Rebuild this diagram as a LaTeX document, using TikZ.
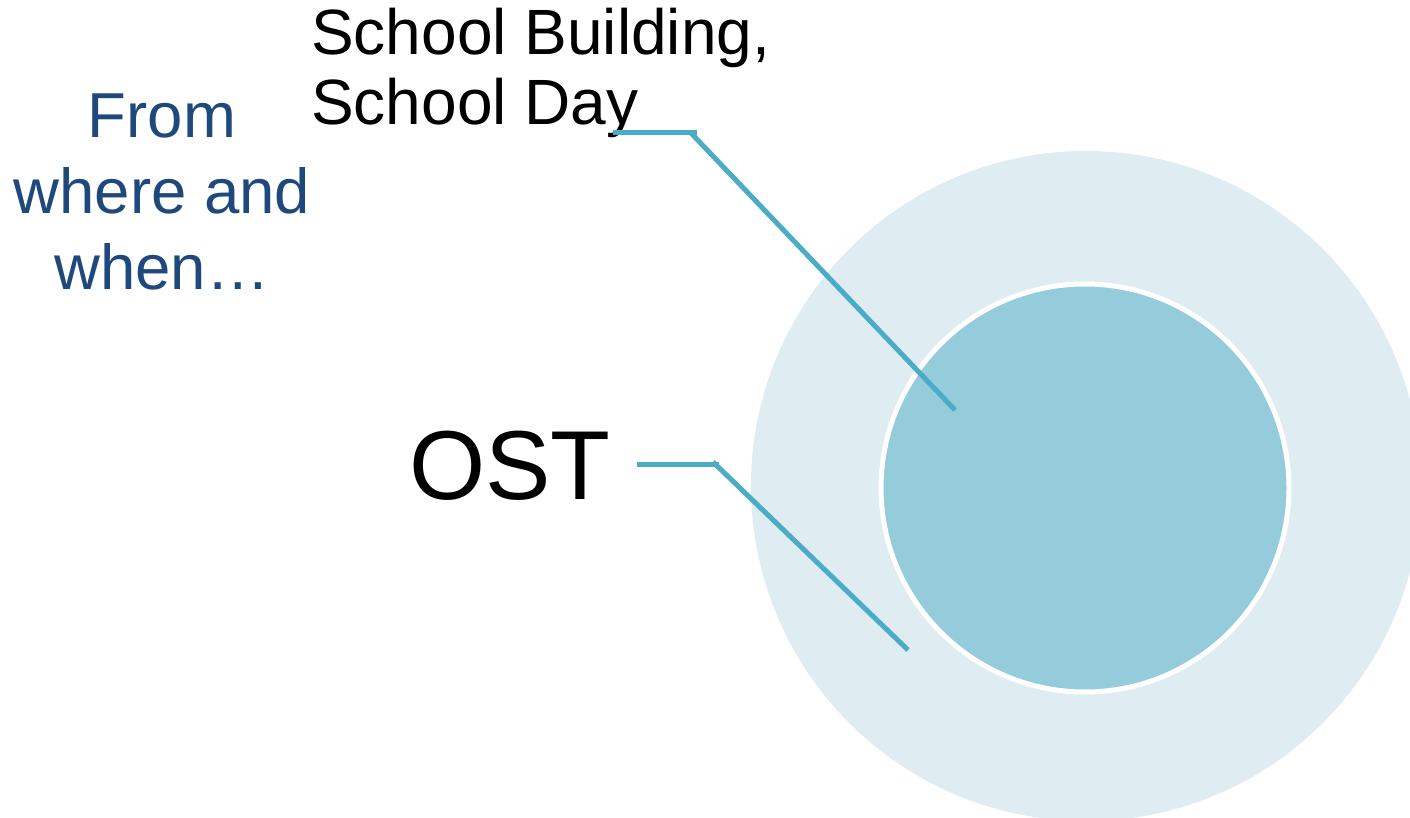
\documentclass[tikz,border=0pt]{standalone}
\usepackage{fontspec}
\setmainfont{Liberation Sans}
\definecolor{outerfill}{HTML}{DFECF2}
\definecolor{innerfill}{HTML}{94CCDC}
\definecolor{leader}{HTML}{4BACC6}
\definecolor{titleblue}{HTML}{1F497D}
\tikzset{
  leaderline/.style={draw=leader, line width=5pt},
  labeltext/.style={inner sep=0pt, text=black},
}
\begin{document}
\begin{tikzpicture}[x=1pt,y=-1pt]
\useasboundingbox (0,0) rectangle (1410,818);
% circles
\fill[outerfill] (1086,486) circle (335);
\node[circle, minimum size=408pt, inner sep=0pt, fill=innerfill, draw=white, line width=5pt] (inner) at (1085,488) {};
% texts
\node[labeltext, anchor=base west, align=left, font=\fontsize{64}{70}\selectfont] (school) at (311,125) {School Building,\\School Day};
\node[inner sep=0pt, anchor=base, align=center, text=titleblue, font=\fontsize{63.5}{76.5}\selectfont] (from) at (162,290) {From\\where and\\when…};
\node[labeltext, anchor=base west, font=\fontsize{98}{110}\selectfont] (ost) at (409,499) {OST};
% leader lines
\coordinate (s1) at (613,133);
\coordinate (s2) at (697,133);
\coordinate (s3) at (690,132);
\coordinate (s4) at (955,410);
\coordinate (o1) at (637,464);
\coordinate (o2) at (719,464);
\coordinate (o3) at (713,462);
\coordinate (o4) at (908,650);
\draw[leaderline] (s1) -- (s2);
\draw[leaderline] (s3) -- (s4);
\draw[leaderline] (o1) -- (o2);
\draw[leaderline] (o3) -- (o4);
\end{tikzpicture}
\end{document}
